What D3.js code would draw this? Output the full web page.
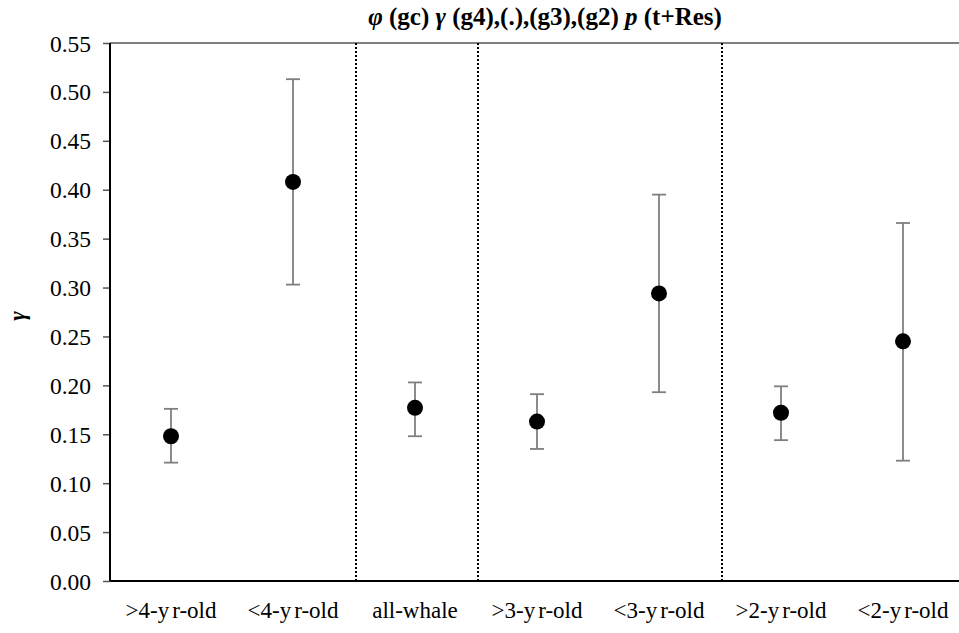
<!DOCTYPE html>
<html>
<head>
<meta charset="utf-8"/>
<title>gamma estimates by group</title>
<script src="https://d3js.org/d3.v7.min.js"></script>
<style>
  body { margin: 0; background: #fff; }
  svg text { font-family: "Liberation Serif", "Times New Roman", serif; fill: #000; }
</style>
</head>
<body>
<svg id="chart" width="959" height="633"></svg>
<script>
// groups along the x axis
var groups = [">4-yr-old", "<4-yr-old", "all-whale", ">3-yr-old", "<3-yr-old", ">2-yr-old", "<2-yr-old"];
// estimate and lower / upper confidence limits
var estimates = [0.148, 0.408, 0.177, 0.163, 0.294, 0.172, 0.245];
var lower = [0.121, 0.303, 0.148, 0.135, 0.193, 0.144, 0.123];
var upper = [0.176, 0.513, 0.203, 0.191, 0.395, 0.199, 0.366];
// dotted dividers sit after these groups
var dividersAfter = ["<4-yr-old", "all-whale", "<3-yr-old"];
var yTicks = [0, 0.05, 0.10, 0.15, 0.20, 0.25, 0.30, 0.35, 0.40, 0.45, 0.50, 0.55];

var svg = d3.select("#chart");
var plotLeft = 110, plotRight = 964, plotTop = 43, plotBottom = 581;

var x = d3.scaleBand().domain(groups).range([plotLeft, plotRight]);
var y = d3.scaleLinear().domain([0, 0.55]).range([plotBottom, plotTop]);

// top border
svg.append("line")
    .attr("x1", plotLeft).attr("x2", plotRight)
    .attr("y1", plotTop).attr("y2", plotTop)
    .attr("stroke", "#808080").attr("stroke-width", 2);

// dividers
svg.selectAll(".divider")
    .data(dividersAfter)
    .enter().append("line")
    .attr("class", "divider")
    .attr("x1", function(d){ return x(d) + x.bandwidth() + 2; })
    .attr("x2", function(d){ return x(d) + x.bandwidth() + 2; })
    .attr("y1", plotTop).attr("y2", plotBottom)
    .attr("stroke", "#000").attr("stroke-width", 2)
    .attr("stroke-dasharray", "2,2");

// y axis
var yAxis = d3.axisLeft(y)
    .tickValues(yTicks)
    .tickFormat(d3.format(".2f"))
    .tickSize(7)
    .tickPadding(12);

var gy = svg.append("g")
    .attr("transform", "translate(" + plotLeft + ",0)")
    .call(yAxis);
gy.select(".domain").remove();
gy.selectAll(".tick line").attr("stroke", "#555").attr("stroke-width", 1.5);
gy.selectAll(".tick text")
    .style("font-size", "23.5px")
    .attr("dy", "0.34em");

svg.append("line")
    .attr("x1", plotLeft).attr("x2", plotLeft)
    .attr("y1", plotTop).attr("y2", plotBottom)
    .attr("stroke", "#000").attr("stroke-width", 2);

// x axis
svg.append("line")
    .attr("x1", plotLeft).attr("x2", plotRight)
    .attr("y1", plotBottom).attr("y2", plotBottom)
    .attr("stroke", "#000").attr("stroke-width", 2);

// labels: a small gap is kept between "y" and "r"
var xl = svg.selectAll(".xlabel")
    .data(groups)
    .enter().append("text")
    .attr("class", "xlabel")
    .attr("x", function(d){ return x(d) + x.bandwidth() / 2; })
    .attr("y", 618)
    .attr("text-anchor", "middle")
    .style("font-size", "23px");
xl.each(function(d){
    var parts = d.split("yr");
    var t = d3.select(this);
    if (parts.length < 2) { t.text(d); return; }
    t.append("tspan").text(parts[0] + "y");
    t.append("tspan").attr("dx", 3).text("r" + parts[1]);
});

// error bars
var rows = groups.map(function(g, i){
    return { group: g, est: estimates[i], lo: lower[i], hi: upper[i] };
});

var cx = function(d){ return x(d.group) + x.bandwidth() / 2; };

var bars = svg.selectAll(".err")
    .data(rows)
    .enter().append("g")
    .attr("class", "err")
    .attr("stroke", "#7f7f7f")
    .attr("stroke-width", 1.8);

bars.append("line")
    .attr("x1", cx).attr("x2", cx)
    .attr("y1", function(d){ return y(d.lo); })
    .attr("y2", function(d){ return y(d.hi); });
bars.append("line")
    .attr("x1", function(d){ return cx(d) - 7; })
    .attr("x2", function(d){ return cx(d) + 7; })
    .attr("y1", function(d){ return y(d.hi); })
    .attr("y2", function(d){ return y(d.hi); });
bars.append("line")
    .attr("x1", function(d){ return cx(d) - 7; })
    .attr("x2", function(d){ return cx(d) + 7; })
    .attr("y1", function(d){ return y(d.lo); })
    .attr("y2", function(d){ return y(d.lo); });

// estimates
svg.selectAll(".pt")
    .data(rows)
    .enter().append("circle")
    .attr("class", "pt")
    .attr("cx", cx)
    .attr("cy", function(d){ return y(d.est); })
    .attr("r", 8)
    .attr("fill", "#000");

// y label
svg.append("text")
    .attr("transform", "translate(25,316) rotate(-90)")
    .attr("text-anchor", "middle")
    .style("font-size", "23px")
    .style("font-weight", "bold")
    .style("font-style", "italic")
    .text("γ");

// title
var title = svg.append("text")
    .attr("x", 545)
    .attr("y", 25)
    .attr("text-anchor", "middle")
    .style("font-size", "25px")
    .style("font-weight", "bold");
title.append("tspan").style("font-style", "italic").text("φ");
title.append("tspan").text(" (gc) ");
title.append("tspan").style("font-style", "italic").text("γ");
title.append("tspan").text(" (g4),(.),(g3),(g2) ");
title.append("tspan").style("font-style", "italic").text("p");
title.append("tspan").text(" (t+Res)");
</script>
</body>
</html>
